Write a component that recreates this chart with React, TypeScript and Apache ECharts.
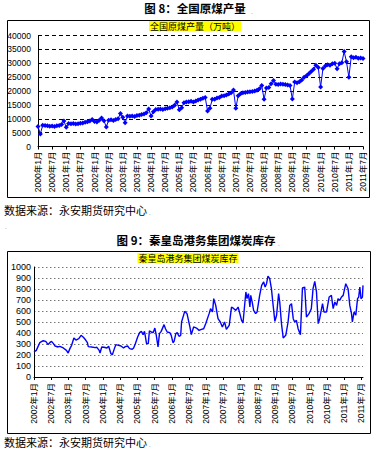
import React, { useEffect, useRef } from "react";
import * as echarts from "echarts";

// ---------- Chart 1: 全国原煤产量（万吨）, monthly 2000-01 .. 2011-07 ----------
const outputValues = [
  7200, 4500, 7700, 7600, 7500, 7300, 7400, 7200, 7500, 7600, 7900, 9200,
  6900, 8300, 8200, 8300, 8100, 8200, 8400, 8500, 8700, 8900, 9200, 9700,
  9000, 8800, 9500, 10300, 9300, 7000, 9500, 9600, 9400, 9700, 10000, 11900,
  10500, 8600, 11000, 10900, 11000, 10800, 11200, 11300, 11500, 11700, 12200, 13500,
  11000, 12500, 13300, 13400, 13500, 13300, 13600, 13800, 14000, 14200, 14900, 16000,
  13200, 14000, 15800, 16000, 16100, 16300, 16000, 16400, 16800, 17000, 17400, 17700,
  12800, 13800, 17000, 17000, 17500, 17700, 18200, 18300, 18600, 18900, 19400, 20400,
  13800, 18300, 19000, 19400, 19500, 19600, 19700, 19800, 20000, 20300, 20800, 22000,
  17000, 21100, 21300, 22600, 23800, 22400, 22300, 22500, 22400, 22300, 22200, 22000,
  17100, 23200, 23000, 23300, 24000, 25000, 25500, 26200, 27000, 27800, 29300, 28500,
  21400, 28100, 29000, 29500, 29300, 29800, 30000, 28000, 29800, 30200, 34200, 30500,
  25000, 32300, 32000, 32200, 31800, 31900, 31700,
];
const outputYears = [2000, 2001, 2002, 2003, 2004, 2005, 2006, 2007, 2008, 2009, 2010, 2011];
const outputMonths: string[] = [];
outputYears.forEach((y) => {
  for (let m = 1; m <= 12; m++) {
    if (outputMonths.length < outputValues.length) outputMonths.push(`${y}年${m}月`);
  }
});
const outputYMin = 0;
const outputYMax = 40000;
const outputYStep = 5000;

// ---------- Chart 2: 秦皇岛港务集团煤炭库存, months since 2002-01 ----------
const stockMonths = [
  0, 0.8, 2.0, 3.2, 4.1, 4.9, 5.5, 6.1, 6.7, 7.3,
  8.4, 9.0, 10.2, 11.3, 11.9, 12.5, 13.1, 13.9, 14.6, 15.6,
  16.4, 17.2, 18.0, 18.6, 18.9, 20.1, 21.3, 21.9, 22.7, 23.0,
  23.6, 24.4, 25.4, 26.0, 26.8, 27.3, 28.0, 28.5, 29.5, 30.3,
  31.2, 31.8, 32.6, 33.3, 34.2, 34.7, 35.3, 36.1, 36.8, 37.4,
  38.0, 38.5, 39.2, 39.8, 40.2, 40.8, 41.5, 42.1, 42.6, 43.2,
  43.7, 44.3, 45.3, 45.8, 46.4, 47.3, 47.8, 48.4, 48.8, 49.4,
  49.9, 50.5, 51.1,
  51.4, 52.5, 53.3, 54.3, 54.8, 55.6, 56.6, 57.5, 58.3, 59.1,
  59.8, 61.0, 61.5, 62.2, 62.6, 63.3, 64.1, 64.9, 65.6, 66.4,
  67.0, 68.0, 68.8, 69.6, 70.3, 71.1, 71.7, 72.3, 72.8, 73.8,
  74.2, 74.7, 75.2, 75.5, 76.1, 76.5, 77.2, 77.7, 78.6, 79.3,
  80.0, 80.5, 81.0, 81.5, 82.1, 82.7, 83.3, 83.9, 84.5, 85.2,
  85.6, 86.2, 86.8, 87.7, 88.5, 89.1, 89.7, 90.3, 90.8, 91.4,
  92.0, 92.8, 93.5, 94.3, 94.9, 95.8, 96.6, 97.2, 97.8, 98.4,
  99.0, 99.5, 100.5, 101.0, 101.9, 102.8, 103.6, 104.2, 104.8, 105.4,
  105.9, 106.5, 107.1, 107.7, 108.6, 109.4, 110.0, 110.6, 110.9, 111.5,
  112.1, 112.7, 113.1, 113.5, 113.9, 114.4, 114.6,
];
const stockValues = [
  227, 242, 312, 330, 324, 294, 312, 324, 306, 282,
  273, 279, 264, 242, 218, 258, 288, 355, 336, 348,
  379, 361, 336, 312, 276, 273, 267, 270, 242, 218,
  273, 270, 264, 279, 212, 203, 258, 294, 288, 282,
  264, 276, 282, 258, 252, 264, 303, 364, 403, 415,
  385, 415, 303, 303, 421, 409, 403, 445, 379, 273,
  394, 415, 476, 439, 409, 403, 379, 312, 324, 394,
  403, 370, 379,
  500, 597, 576, 455, 385, 455, 445, 424, 433, 439,
  485, 576, 621, 591, 712, 651, 530, 500, 455, 500,
  433, 470, 636, 621, 606, 636, 576, 515, 491, 773,
  712, 758, 636, 742, 667, 606, 576, 591, 742, 833,
  864, 818, 848, 918, 894, 803, 651, 506, 561, 758,
  682, 485, 355, 379, 500, 651, 667, 530, 500, 515,
  439, 385, 809, 818, 545, 576, 621, 803, 870, 773,
  485, 530, 667, 591, 591, 727, 742, 621, 682, 651,
  712, 697, 727, 742, 848, 803, 651, 576, 500, 591,
  561, 712, 727, 818, 712, 727, 833,
];
const stockTickMonths = [0, 6, 12, 18, 24, 30, 36, 42, 48, 54, 60, 66, 72, 78, 84, 90, 96, 102, 108, 114];
const stockTickLabels = [
  "2002年1月", "2002年7月", "2003年1月", "2003年7月", "2004年1月", "2004年7月",
  "2005年1月", "2005年7月", "2006年1月", "2006年7月", "2007年1月", "2007年7月",
  "2008年1月", "2008年7月", "2009年1月", "2009年7月", "2010年1月", "2010年7月",
  "2011年1月", "2011年7月",
];
const stockYMin = 0;
const stockYMax = 1000;
const stockYStep = 100;

const CJK = '"Noto Sans CJK SC", sans-serif';
const AXF = '"Liberation Sans", "Noto Sans CJK SC", sans-serif';
const BLUE = "#0000ff";

export default function App() {
  const ref = useRef<HTMLDivElement>(null);
  useEffect(() => {
    if (!ref.current) return;
    const chart = echarts.init(ref.current, undefined, { renderer: "svg" });
    const txt = (x: number, y: number, text: string, size: number, opts: any = {}) => ({
      type: "text",
      x,
      y,
      silent: true,
      style: {
        text,
        fontSize: size,
        fontFamily: CJK,
        fill: "#000",
        textAlign: "left",
        textVerticalAlign: "middle",
        ...opts,
      },
    });
    chart.setOption({
      animation: false,
      backgroundColor: "#fff",
      graphic: [
        { type: "rect", shape: { x: 7.5, y: 20.5, width: 362, height: 177 }, style: { fill: "none", stroke: "#000", lineWidth: 1 } },
        { type: "rect", shape: { x: 7.5, y: 251.5, width: 363, height: 182 }, style: { fill: "none", stroke: "#000", lineWidth: 1 } },
        txt(195, 8, "图 8：全国原煤产量", 11.5, { fontWeight: "bold", textAlign: "center" }),
        txt(251, 11, ".", 6, { fill: "#888" }),
        txt(195, 26, "全国原煤产量（万吨）", 9, { textAlign: "center", backgroundColor: "#ffff00", padding: [1, 1, 0, 1] }),
        txt(4, 210, "数据来源：永安期货研究中心", 11),
        txt(149, 212, ".", 6, { fill: "#888" }),
        txt(5, 226, ".", 6, { fill: "#888" }),
        txt(196, 240, "图 9：秦皇岛港务集团煤炭库存", 11.5, { fontWeight: "bold", textAlign: "center" }),
        txt(278, 243, ".", 6, { fill: "#888" }),
        txt(188, 258, "秦皇岛港务集团煤炭库存", 9, { textAlign: "center", backgroundColor: "#ffff00", padding: [1, 1, 0, 1] }),
        txt(4, 442, "数据来源：永安期货研究中心", 11),
        txt(149, 444, ".", 6, { fill: "#888" }),
      ],
      grid: [
        { left: 38, top: 35.5, width: 325, height: 111 },
        { left: 34, top: 267, width: 329, height: 110 },
      ],
      xAxis: [
        {
          gridIndex: 0,
          type: "category",
          data: outputMonths,
          boundaryGap: false,
          axisLine: { lineStyle: { color: "#000", width: 1 } },
          axisTick: { interval: 5, length: 3, lineStyle: { color: "#000" } },
          axisLabel: { interval: 5, rotate: 90, fontSize: 8.5, color: "#000", fontFamily: AXF, margin: 5 },
          splitLine: { show: false },
        },
        {
          gridIndex: 1,
          type: "value",
          min: 0,
          max: 114.6,
          axisLine: { onZero: false, lineStyle: { color: "#000", width: 1 } },
          axisTick: { customValues: stockTickMonths, length: 3, lineStyle: { color: "#000" } },
          axisLabel: {
            customValues: stockTickMonths,
            rotate: 90,
            fontSize: 8.5,
            color: "#000",
            fontFamily: AXF,
            margin: 6,
            formatter: (v: number) => {
              const i = stockTickMonths.indexOf(Math.round(v));
              return i >= 0 ? stockTickLabels[i] : "";
            },
          },
          splitLine: { show: false },
        },
      ],
      yAxis: [
        {
          gridIndex: 0,
          type: "value",
          min: outputYMin,
          max: outputYMax,
          interval: outputYStep,
          axisLine: { show: true, lineStyle: { color: "#000", width: 1 } },
          axisTick: { show: false },
          axisLabel: { fontSize: 8.5, color: "#000", fontFamily: AXF, margin: 7, formatter: (v: number) => String(v) },
          splitLine: { show: true, lineStyle: { color: "#000", type: [4, 3], width: 1 } },
        },
        {
          gridIndex: 1,
          type: "value",
          min: stockYMin,
          max: stockYMax,
          interval: stockYStep,
          axisLine: { show: true, lineStyle: { color: "#000", width: 1 } },
          axisTick: { show: false },
          axisLabel: { fontSize: 9, color: "#000", fontFamily: AXF, margin: 3, formatter: (v: number) => String(v) },
          splitLine: { show: true, lineStyle: { color: "#777", type: [1.5, 2.5], width: 1 } },
        },
      ],
      series: [
        {
          type: "line",
          xAxisIndex: 0,
          yAxisIndex: 0,
          data: outputValues,
          symbol: "diamond",
          symbolSize: 5,
          showAllSymbol: true,
          lineStyle: { color: BLUE, width: 1 },
          itemStyle: { color: BLUE },
        },
        {
          type: "line",
          xAxisIndex: 1,
          yAxisIndex: 1,
          data: stockMonths.map((m, i) => [m, stockValues[i]]),
          symbol: "none",
          lineStyle: { color: BLUE, width: 1.4 },
        },
      ],
    });
    return () => chart.dispose();
  }, []);
  return <div ref={ref} style={{ position: "fixed", left: 0, top: 0, width: 375, height: 451 }} />;
}
